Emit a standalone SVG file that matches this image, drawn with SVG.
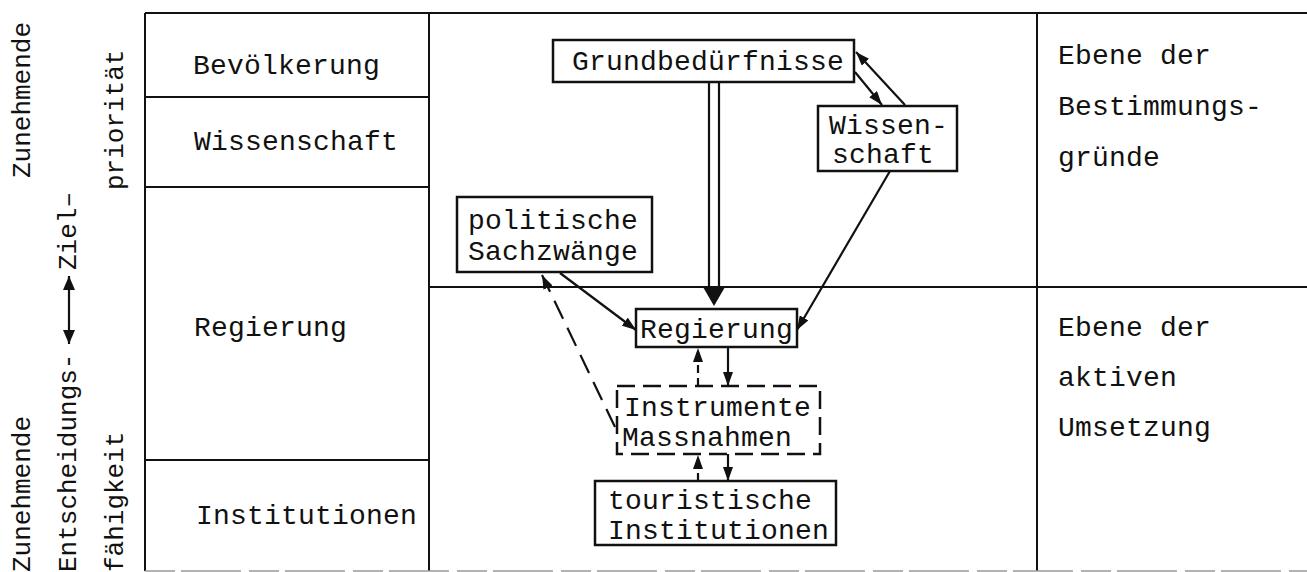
<svg xmlns="http://www.w3.org/2000/svg" width="1307" height="572" viewBox="0 0 1307 572">
<style>
text{font-family:"Liberation Mono","DejaVu Sans Mono",monospace;font-size:28px;letter-spacing:0.2px;fill:#111}
text.v{font-size:26px;letter-spacing:0}
.grid{stroke:#111;stroke-width:2;fill:none}
.box{stroke:#111;stroke-width:2.5;fill:#fff}
.dbox{stroke:#111;stroke-width:2.5;fill:#fff;stroke-dasharray:18 8}
.con{stroke:#111;stroke-width:2.2;fill:none}
.dash{stroke-dasharray:20 10}
.sdash{stroke-dasharray:8 5}
</style>
<defs>
<marker id="ah" viewBox="0 0 14 10" refX="14" refY="5" markerWidth="14" markerHeight="10" markerUnits="userSpaceOnUse" orient="auto"><path d="M0,0 L14,5 L0,10 Z" fill="#111"/></marker>
<marker id="ah2" viewBox="0 0 14 12" refX="14" refY="6" markerWidth="14" markerHeight="12" markerUnits="userSpaceOnUse" orient="auto-start-reverse"><path d="M0,0 L14,6 L0,12 Z" fill="#111"/></marker>
</defs>
<rect width="1307" height="572" fill="#fff"/>
<g id="table">
<path class="grid" d="M145,13 H1307 M145,13 V571 M429,13 V571 M1037,13 V571 M145,97 H429 M145,187 H429 M145,460 H429 M429,287 H1307"/>
<path d="M145,571 H1307" stroke="#999" stroke-width="1.5" stroke-dasharray="30 6 60 8"/>
</g>
<g id="left-labels">
<text class="v" transform="translate(30,178) rotate(-90)">Zunehmende</text>
<text class="v" transform="translate(76,270) rotate(-90)">Ziel–</text>
<text class="v" transform="translate(123,190) rotate(-90)">priorität</text>
<text class="v" transform="translate(30,572) rotate(-90)">Zunehmende</text>
<text class="v" transform="translate(76,572) rotate(-90)">Entscheidungs-</text>
<text class="v" transform="translate(123,572) rotate(-90)">fähigkeit</text>
<line class="con" x1="69" y1="276" x2="69" y2="344" marker-start="url(#ah2)" marker-end="url(#ah2)"/>
</g>
<g id="rows">
<text x="193" y="74">Bevölkerung</text>
<text x="194" y="150">Wissenschaft</text>
<text x="194" y="336">Regierung</text>
<text x="196" y="524">Institutionen</text>
</g>
<g id="levels">
<text x="1058" y="64">Ebene der</text>
<text x="1058" y="115">Bestimmungs-</text>
<text x="1058" y="166">gründe</text>
<text x="1058" y="336">Ebene der</text>
<text x="1058" y="386">aktiven</text>
<text x="1058" y="436">Umsetzung</text>
</g>
<g id="connectors">
<line class="con" x1="709" y1="82" x2="709" y2="291"/>
<line class="con" x1="719" y1="82" x2="719" y2="291"/>
<path d="M703,287 L725,287 L714,306 Z" fill="#111"/>
<line class="con" x1="855" y1="72" x2="882" y2="105" marker-end="url(#ah)"/>
<line class="con" x1="905" y1="105" x2="856" y2="52" marker-end="url(#ah)"/>
<line class="con" x1="890" y1="171" x2="797" y2="330" marker-end="url(#ah)"/>
<line class="con" x1="560" y1="273" x2="636" y2="330" marker-end="url(#ah)"/>
<line class="con dash" x1="615" y1="427" x2="542" y2="275" marker-end="url(#ah)"/>
<line class="con" x1="728" y1="347" x2="728" y2="386" marker-end="url(#ah)"/>
<line class="con sdash" x1="698" y1="386" x2="698" y2="348" marker-end="url(#ah)"/>
<line class="con sdash" x1="698" y1="481" x2="698" y2="455" marker-end="url(#ah)"/>
<line class="con" x1="728" y1="454" x2="728" y2="481" marker-end="url(#ah)"/>
</g>
<g id="grundbeduerfnisse">
<rect class="box" x="553" y="40" width="301" height="42"/>
<text x="572" y="70">Grundbedürfnisse</text>
</g>
<g id="wissenschaft">
<rect class="box" x="818" y="106" width="139" height="65"/>
<text x="829" y="134">Wissen-</text>
<text x="832" y="163">schaft</text>
</g>
<g id="politische">
<rect class="box" x="457" y="197" width="195" height="75"/>
<text x="468" y="229">politische</text>
<text x="468" y="260">Sachzwänge</text>
</g>
<g id="regierung">
<rect class="box" x="636" y="309" width="161" height="38"/>
<text x="640" y="338">Regierung</text>
</g>
<g id="instrumente">
<rect class="dbox" x="617" y="386" width="203" height="68"/>
<text x="624" y="416">Instrumente</text>
<text x="622" y="446">Massnahmen</text>
</g>
<g id="touristische">
<rect class="box" x="595" y="481" width="241" height="64"/>
<text x="608" y="509">touristische</text>
<text x="608" y="539">Institutionen</text>
</g>
</svg>
